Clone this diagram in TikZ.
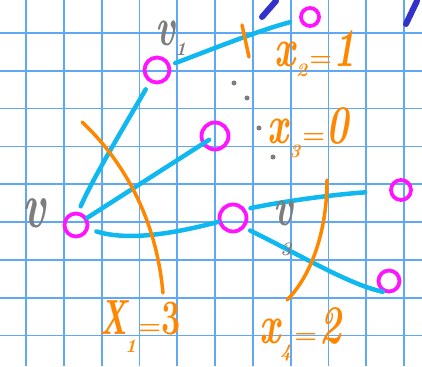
\documentclass[tikz,border=0pt]{standalone}
\usepackage{graphicx}
\definecolor{gridc}{RGB}{95,168,245}
\definecolor{edgec}{RGB}{15,185,240}
\definecolor{nodec}{RGB}{255,20,255}
\definecolor{cutc}{RGB}{255,135,0}
\definecolor{labc}{RGB}{125,125,125}
\definecolor{inkc}{RGB}{50,50,200}
\newcommand{\tall}[1]{\scalebox{1.1}[1.6]{#1}}
\newcommand{\subfnt}{\fontsize{19}{19}\selectfont}
\newcommand{\eqs}{{\fontsize{26}{26}\selectfont\upshape =}}
\begin{document}
\begin{tikzpicture}[x=1pt,y=-1pt,
 gridline/.style={draw=gridc, line width=1.8pt},
 vtx/.style={circle, draw=nodec, line width=3.8pt, inner sep=0pt},
 edge/.style={draw=edgec, line width=4.5pt, line cap=round},
 cut/.style={draw=cutc, line width=3.5pt, line cap=round},
 ink/.style={draw=inkc, line width=6pt, line cap=round},
 dot/.style={circle, fill=labc, inner sep=0pt, minimum size=5pt},
 big/.style={inner sep=0pt, font=\fontsize{34}{34}\selectfont\bfseries\itshape},
 small/.style={inner sep=0pt, font=\fontsize{19}{19}\selectfont\bfseries\itshape},
 orange/.style={text=cutc, anchor=base west},
 grey/.style={text=labc},
 ]
\fill[white] (0,0) rectangle (422,366);
\useasboundingbox (0,0) rectangle (422,366);
\foreach \i in {0,...,10} \draw[gridline] ({26+37.8*\i},0) -- ({26+37.8*\i},366);
\foreach \j in {0,...,8} \draw[gridline] (0,{33+37.8*\j}) -- (422,{33+37.8*\j});

% ink fragments at top
\draw[ink] (262,17) -- (276,1);
\draw[ink] (406,24) -- (417,1);

% vertices
\node[vtx, minimum size=23pt] (v) at (76,225) {};
\node[vtx, minimum size=25pt] (v1) at (157,70) {};
\node[vtx, minimum size=27pt] (m) at (215,136) {};
\node[vtx, minimum size=27pt] (v3) at (233,218) {};
\node[vtx, minimum size=18pt] (tr) at (310,17) {};
\node[vtx, minimum size=20pt] (r) at (401,190) {};
\node[vtx, minimum size=21pt] (lr) at (389,281) {};

% edges
\draw[edge, shorten <=6pt, shorten >=8pt] (v.80) .. controls (92,180) and (125,125) .. (v1);
\draw[edge, shorten <=5pt, shorten >=10pt] (v1) .. controls (210,50) and (260,30) .. (tr);
\draw[edge, shorten >=7pt] (v) -- (m.center);
\draw[edge, shorten <=8pt] (v) .. controls (130,242) and (180,232) .. (v3);
\draw[edge, shorten <=5pt, shorten >=24pt] (v3.35) .. controls (290,200) and (340,194) .. (r);
\draw[edge, shorten <=6pt] (v3.-40) .. controls (300,255) and (350,285) .. (lr.-120);

% cuts
\draw[cut] (82,122) .. controls (112,150) and (155,205) .. (163,293);
\draw[cut] (242,25) -- (249,57);
\draw[cut] (327,180) .. controls (327,230) and (312,275) .. (287,300);

% dots
\node[dot] (d1) at (234,83) {};
\node[dot] (d2) at (247,98) {};
\node[dot] (d3) at (259,128) {};
\node[dot] (d4) at (273,157) {};

% vertex labels
\node[big, grey, font=\fontsize{40}{40}\selectfont\bfseries\itshape] (lv) at (34,213) {\tall{v}};
\node[big, grey, anchor=base west] (lv1) at (155,46) {\tall{v}\kern0pt\raisebox{-10pt}{\subfnt 1}};
\node[big, grey] (lv3) at (283,213) {\tall{v}};
\node[small, grey] (lv3s) at (286,249) {3};

% cut labels
\node[big, orange] (x2) at (274,67) {\tall{x}\kern1pt\raisebox{-10pt}{\subfnt 2}\kern2pt\eqs\kern1pt\tall{1}};
\node[big, orange] (x3) at (267,143) {\tall{x}\kern1pt\raisebox{-14pt}{\subfnt 3}\kern2pt\eqs\kern1pt\tall{0}};
\node[big, orange, font=\fontsize{38}{38}\selectfont\bfseries\itshape] (x1) at (99,334) {\scalebox{0.85}[1.3]{X}\kern-2pt\raisebox{-18pt}{\subfnt 1}\kern2pt\eqs\kern0pt\scalebox{0.9}[1.3]{\upshape 3}};
\node[big, orange] (x4) at (259,343) {\tall{x}\kern0pt\raisebox{-14pt}{\subfnt 4}\kern3pt\eqs\kern2pt\tall{2}};
\end{tikzpicture}
\end{document}
